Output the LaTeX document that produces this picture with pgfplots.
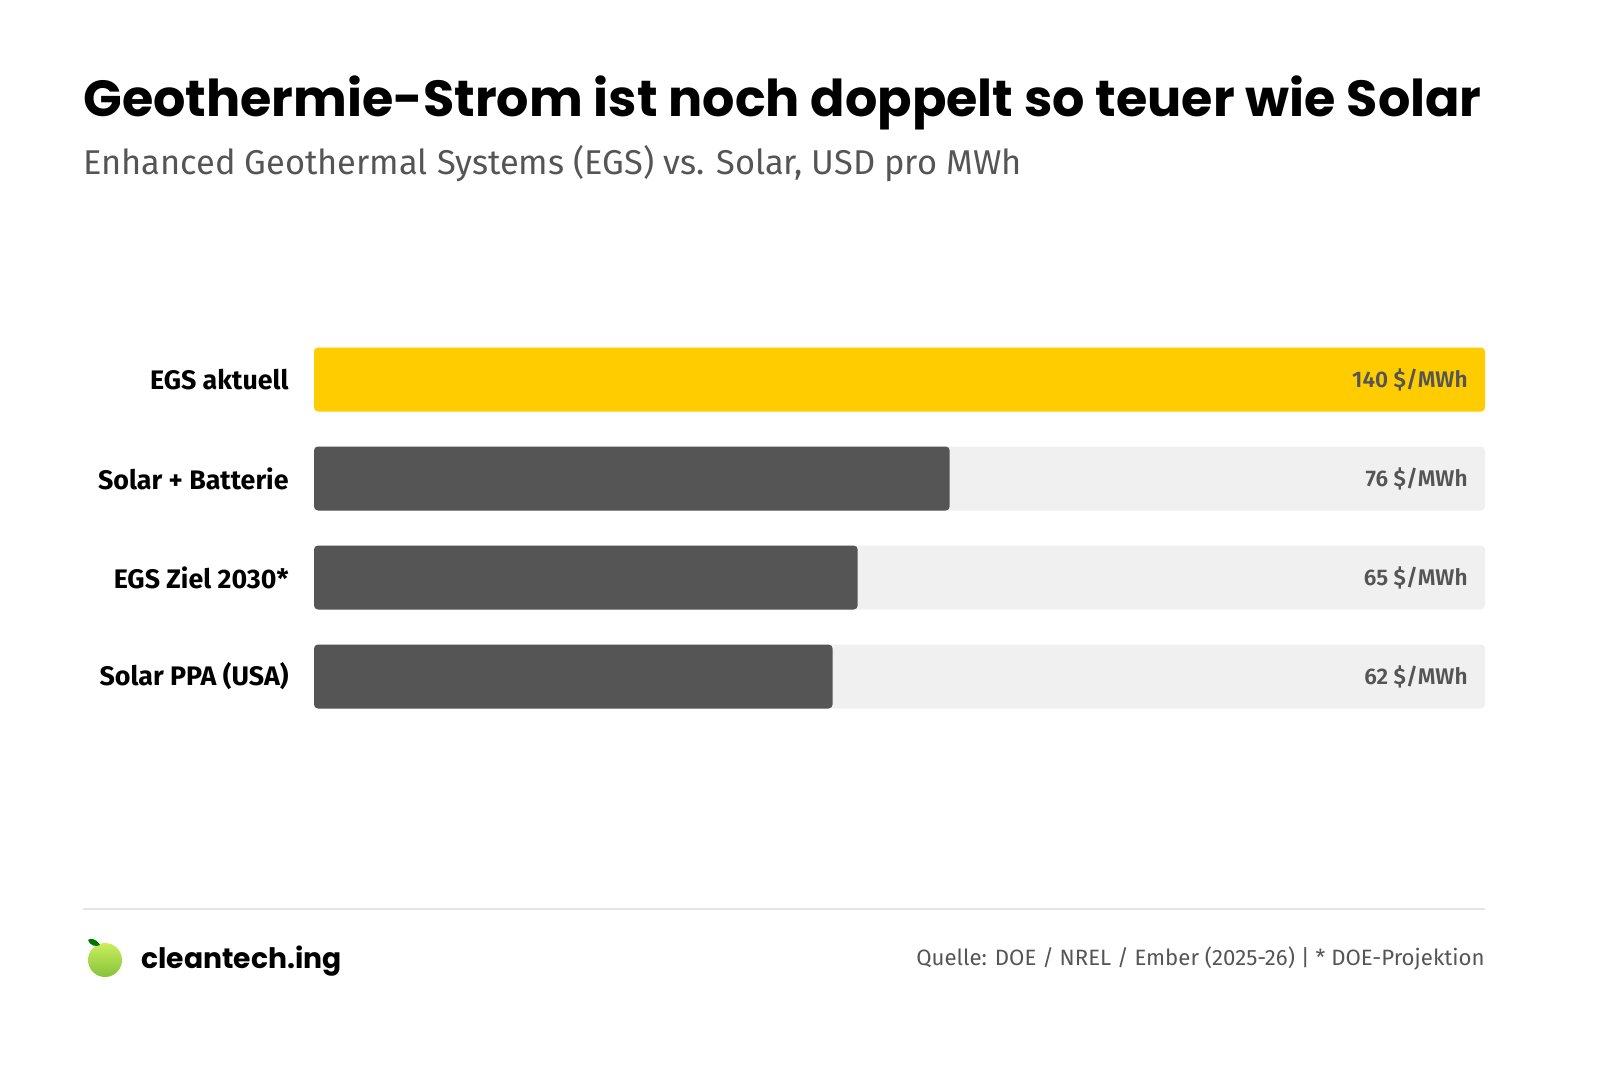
\documentclass[border=0pt]{standalone}
\usepackage{fontspec}
\setmainfont{Fira Sans}
\newfontfamily\poppins{Poppins}
\newfontfamily\semib{Fira Sans}[UprightFont=* SemiBold]
\usepackage{pgfplots}
\usepackage{pgfplotstable}
\pgfplotsset{compat=1.18}

\definecolor{egsyellow}{HTML}{FFCC00}
\definecolor{bardark}{HTML}{555555}
\definecolor{track}{HTML}{F0F0F0}
\definecolor{txtgray}{HTML}{555555}
\definecolor{rule}{HTML}{E6E6E6}
\definecolor{appletop}{HTML}{C9EE5C}
\definecolor{applebot}{HTML}{86C23A}

% cost in USD per MWh, row 3 is the top bar
\pgfplotstableread{
y val full
3 140 140
2 76 140
1 65 140
0 62 140
}\costs

\begin{document}
\begin{tikzpicture}
\node[anchor=base west, inner sep=0pt] at (41.5pt,475pt)
  {\poppins\bfseries\fontsize{25.4}{30}\selectfont Geothermie-Strom ist noch doppelt so teuer wie Solar};
\node[anchor=base west, inner sep=0pt, text=txtgray] at (41.5pt,446pt)
  {\fontsize{17.2}{20}\selectfont Enhanced Geothermal Systems (EGS) vs. Solar, USD pro MWh};

\begin{axis}[
  at={(157pt,170.5pt)}, anchor=south west,
  scale only axis, width=585.5pt, height=198pt,
  xbar, bar width=32pt, bar shift=0pt,
  xmin=0, xmax=140, ymin=-0.5, ymax=3.5,
  axis line style={draw=none},
  xtick=\empty,
  ytick={0,1,2,3},
  yticklabels={Solar PPA (USA), EGS Ziel 2030*, Solar + Batterie, EGS aktuell},
  major tick length=0pt,
  yticklabel style={anchor=east, inner sep=0pt, xshift=-12.5pt,
    font=\bfseries\fontsize{13.4}{15}\selectfont, text=black},
  /pgf/number format/assume math mode=true,
  every axis plot/.append style={draw=none, rounded corners=2pt},
]
\addplot[fill=track] table[x=full, y=y] {\costs};
\addplot[fill=egsyellow] coordinates {(140,3)};
\addplot[fill=bardark] coordinates {(76,2) (65,1) (62,0)};
\addplot[fill=none, point meta=explicit,
  nodes near coords={\pgfmathprintnumber{\pgfplotspointmeta}~\$/MWh},
  every node near coord/.append style={anchor=east, xshift=-8.5pt,
    inner sep=0pt, text=txtgray, font=\semib\fontsize{11.3}{13}\selectfont}]
  table[x=full, y=y, meta=val] {\costs};
\end{axis}

\draw[rule, line width=0.6pt] (41.5pt,79pt) -- (742.5pt,79pt);

% logo
\shade[top color=appletop, bottom color=applebot] (52.5pt,53.5pt) circle (8.5pt);
\fill[green!45!black] (50pt,61pt) .. controls (48pt,64.5pt) and (45pt,64.5pt) .. (44pt,63.5pt)
  .. controls (45pt,60.5pt) and (48pt,60pt) .. (50pt,61pt);
\node[anchor=base west, inner sep=0pt] at (70.5pt,49.5pt)
  {\poppins\bfseries\fontsize{14.1}{17}\selectfont cleantech.ing};
\node[anchor=base east, inner sep=0pt, text=txtgray] at (742.5pt,51pt)
  {\fontsize{11.1}{13}\selectfont Quelle: DOE / NREL / Ember (2025-26) | * DOE-Projektion};

\pgfresetboundingbox
\useasboundingbox (0,0) rectangle (800pt,533.5pt);
\end{tikzpicture}
\end{document}
